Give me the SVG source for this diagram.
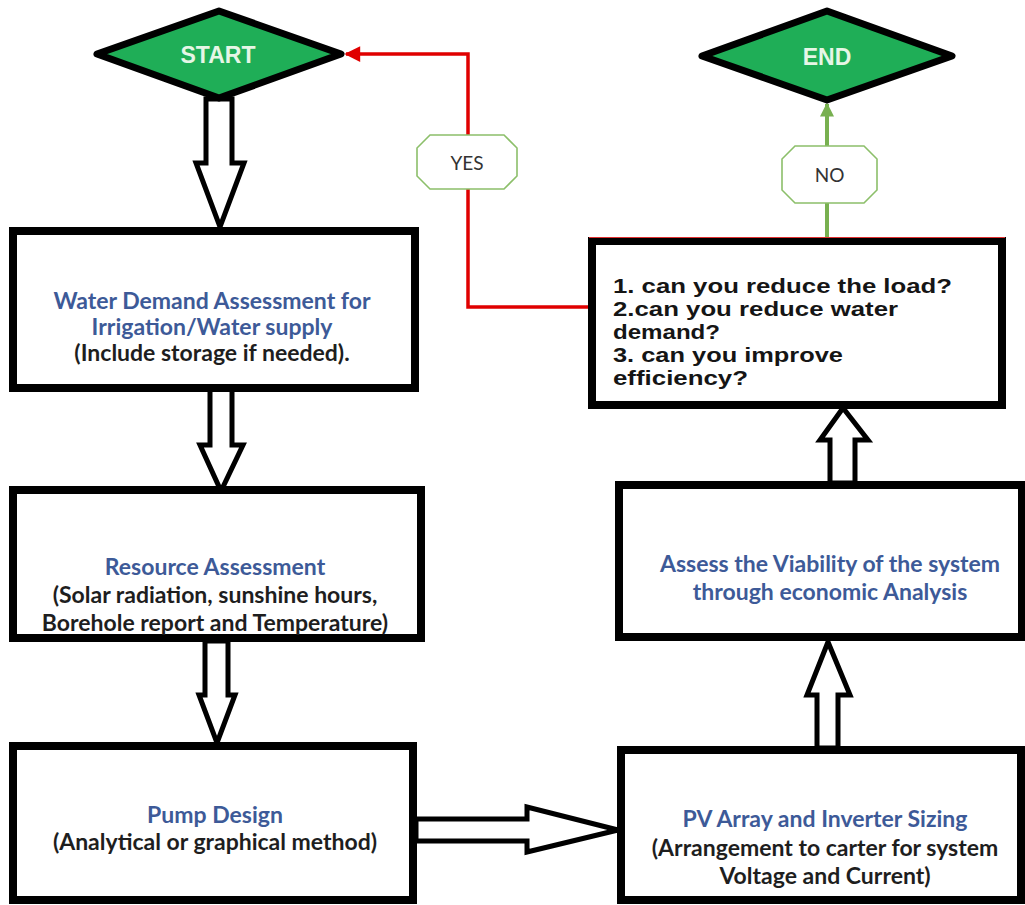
<svg xmlns="http://www.w3.org/2000/svg" width="1025" height="905" viewBox="0 0 1025 905">
<defs>
<style>
.box{fill:#ffffff;stroke:#000000;stroke-width:8}
.dia{fill:#1fae57;stroke:#000000;stroke-width:7;stroke-linejoin:round}
.dtxt{font-family:"Liberation Sans",Arial,sans-serif;font-weight:bold;font-size:23px;fill:#e6f6e6;text-anchor:middle}
.hollow{fill:#ffffff;stroke:#000000;stroke-width:5;stroke-linejoin:miter}
.blue{font-family:Lato,"Open Sans",sans-serif;font-weight:bold;font-size:23px;fill:#3d5a98;text-anchor:middle}
.dark{font-family:Lato,"Open Sans",sans-serif;font-weight:bold;font-size:23px;fill:#1e1e1e;text-anchor:middle}
.q{font-family:"Liberation Sans",Arial,sans-serif;font-weight:bold;font-size:21px;fill:#151515}
.oct{fill:#ffffff;stroke:#8cbf6a;stroke-width:1.6}
.otxt{font-family:Lato,"Open Sans",sans-serif;font-size:19px;fill:#333333;text-anchor:middle}
</style>
<marker id="redHead" viewBox="0 0 10 10" refX="9" refY="5" markerWidth="6" markerHeight="4.5" markerUnits="strokeWidth" orient="auto">
<path d="M0,0 L10,5 L0,10 z" fill="#e00000"/>
</marker>
<marker id="greenHead" viewBox="0 0 10 10" refX="9" refY="5" markerWidth="3.5" markerHeight="3.5" markerUnits="strokeWidth" orient="auto">
<path d="M0,0 L10,5 L0,10 z" fill="#78b050"/>
</marker>
</defs>
<rect width="1025" height="905" fill="#ffffff"/>

<g id="connectors">
<polygon class="hollow" points="206,99 206,163 196,163 220,227 244,163 232,163 232,99"/>
<polygon class="hollow" points="210,389 210,445 200,445 221,491 243,445 232,445 232,389"/>
<polygon class="hollow" points="205,641 205,695 199,695 217,743 235,695 228,695 228,641"/>
<polygon class="hollow" points="416,819 527,819 527,807 618,830 527,852 527,841 416,841"/>
<polygon class="hollow" points="817,748 817,695 807,695 828,642 850,695 838,695 838,748"/>
<polygon class="hollow" points="830,483 830,440 820,440 843,408 868,440 855,440 855,483"/>
<path d="M590,307 H468 V54 H346" fill="none" stroke="#e00000" stroke-width="3.5" marker-end="url(#redHead)"/>
<path d="M827,238 V104" fill="none" stroke="#78b050" stroke-width="4" marker-end="url(#greenHead)"/>
</g>

<g id="start">
<polygon class="dia" points="97,54 219,11 341,54 219,98"/>
<text class="dtxt" x="218" y="63">START</text>
</g>

<g id="end">
<polygon class="dia" points="702,56 827,11 952,56 827,100"/>
<text class="dtxt" x="827" y="65">END</text>
</g>

<g id="label-yes">
<polygon class="oct" points="430,135 504,135 517,148 517,176 504,189 430,189 417,176 417,148"/>
<text class="otxt" x="467" y="170">YES</text>
</g>

<g id="label-no">
<polygon class="oct" points="795,146 864,146 877,159 877,190 864,203 795,203 782,190 782,159"/>
<text class="otxt" x="829.5" y="182">NO</text>
</g>

<g id="water-demand">
<rect class="box" x="13" y="231" width="402" height="157"/>
<text class="blue" x="212" y="309">Water Demand Assessment for</text>
<text class="blue" x="212" y="335">Irrigation/Water supply</text>
<text class="dark" x="212" y="361">(Include storage if needed).</text>
</g>

<g id="resource">
<rect class="box" x="13" y="490" width="408" height="148"/>
<text class="blue" x="215" y="575">Resource Assessment</text>
<text class="dark" x="215" y="603">(Solar radiation, sunshine hours,</text>
<text class="dark" x="215" y="631">Borehole report and Temperature)</text>
</g>

<g id="pump">
<rect class="box" x="13" y="746" width="400" height="154"/>
<text class="blue" x="215" y="823">Pump Design</text>
<text class="dark" x="215" y="850">(Analytical or graphical method)</text>
</g>

<g id="pv">
<rect class="box" x="621" y="750" width="400" height="150"/>
<text class="blue" x="825" y="827">PV Array and Inverter Sizing</text>
<text class="dark" x="825" y="856">(Arrangement to carter for system</text>
<text class="dark" x="825" y="884">Voltage and Current)</text>
</g>

<g id="viability">
<rect class="box" x="619" y="485" width="403" height="152"/>
<text class="blue" x="830" y="572">Assess the Viability of the system</text>
<text class="blue" x="830" y="600">through economic Analysis</text>
</g>

<g id="decision">
<rect class="box" x="592" y="241" width="410" height="164"/>
<line x1="589" y1="237.5" x2="1005" y2="237.5" stroke="#e03030" stroke-width="1.2"/>
<text class="q" x="613" y="293" textLength="339" lengthAdjust="spacingAndGlyphs">1. can you reduce the load?</text>
<text class="q" x="613" y="316" textLength="285" lengthAdjust="spacingAndGlyphs">2.can you reduce water</text>
<text class="q" x="613" y="339" textLength="107" lengthAdjust="spacingAndGlyphs">demand?</text>
<text class="q" x="613" y="362" textLength="230" lengthAdjust="spacingAndGlyphs">3. can you improve</text>
<text class="q" x="613" y="385" textLength="135" lengthAdjust="spacingAndGlyphs">efficiency?</text>
</g>
</svg>
